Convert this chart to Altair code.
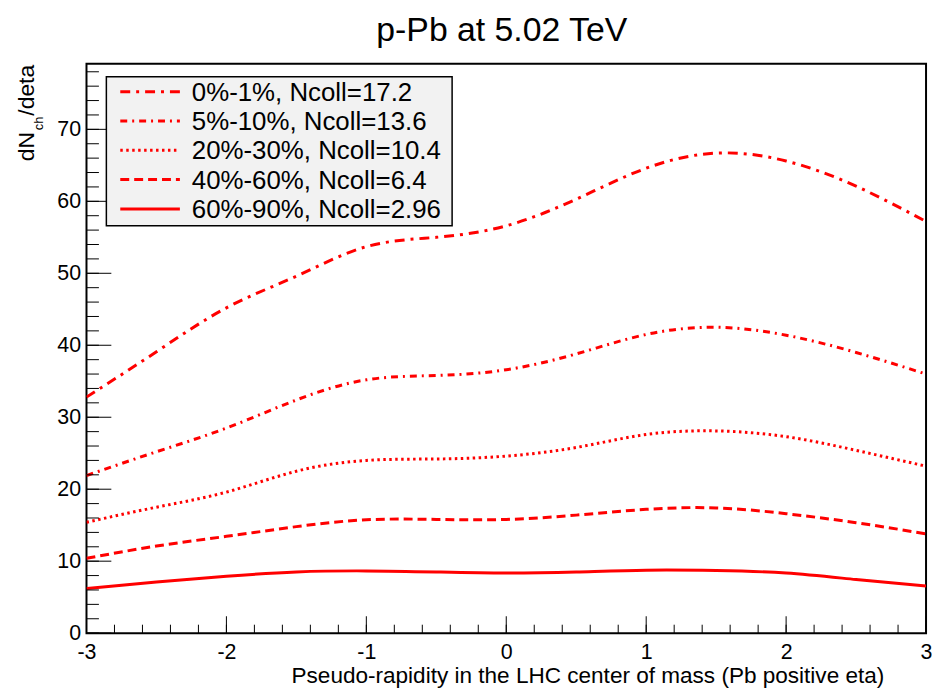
import altair as alt
import pandas as pd

# ---- data ----
eta = [-3.0, -2.5, -2.0, -1.5, -1.0, -0.5, 0.0, 0.5, 1.0, 1.5, 2.0, 2.5, 3.0]
labels = [
    "0%-1%, Ncoll=17.2",
    "5%-10%, Ncoll=13.6",
    "20%-30%, Ncoll=10.4",
    "40%-60%, Ncoll=6.4",
    "60%-90%, Ncoll=2.96",
]
v_0_1 = [32.8, 39.1, 45.2, 49.6, 53.7, 55.0, 56.6, 60.3, 64.6, 66.7, 65.6, 62.1, 57.2]
v_5_10 = [21.9, 25.2, 28.5, 32.4, 35.2, 35.8, 36.6, 38.8, 41.5, 42.5, 41.4, 39.0, 36.0]
v_20_30 = [15.4, 17.5, 19.6, 22.5, 24.0, 24.2, 24.6, 25.8, 27.6, 28.1, 27.3, 25.4, 23.2]
v_40_60 = [10.4, 12.1, 13.45, 14.8, 15.75, 15.8, 15.8, 16.4, 17.2, 17.4, 16.6, 15.35, 13.8]
v_60_90 = [6.2, 7.1, 7.9, 8.5, 8.65, 8.5, 8.35, 8.5, 8.75, 8.7, 8.35, 7.45, 6.55]
series_values = [v_0_1, v_5_10, v_20_30, v_40_60, v_60_90]

x_major = [-3, -2, -1, 0, 1, 2, 3]
x_minor = [round(-3 + 0.2 * i, 1) for i in range(31)]
y_major = [0, 10, 20, 30, 40, 50, 60, 70]
y_minor = [2 * i for i in range(40)]

# ---- styles ----
dashes = [[10, 6, 3, 6], [7, 5, 2, 5], [2.5, 3.5], [9, 5], None]
RED = "#ff0000"
FONT = "Liberation Sans"
W, H = 845, 573

xs = alt.Scale(domain=[-3, 3], nice=False, zero=False)
ys = alt.Scale(domain=[0, 79.1], nice=False, zero=False)
x_axis = alt.Axis(values=x_major, labelExpr="'' + datum.value",
                  ticks=False, domain=False, grid=False, title=None,
                  labelFont=FONT, labelFontSize=21.5, labelColor="black",
                  labelPadding=9, labelFlush=False, labelOverlap=False)
y_axis = alt.Axis(values=y_major, ticks=False, domain=False, grid=False,
                  title=None, labelFont=FONT, labelFontSize=21.5,
                  labelColor="black", labelPadding=6, labelFlush=False,
                  labelOverlap=False)
one = pd.DataFrame({"k": [0]})

rows = []
for lab, vals in zip(labels, series_values):
    for e, v in zip(eta, vals):
        rows.append({"eta": e, "v": v, "s": lab})
df = pd.DataFrame(rows)

layers = []
for i, lab in enumerate(labels):
    mk = dict(color=RED, strokeWidth=3, interpolate="natural", clip=True)
    if dashes[i] is not None:
        mk["strokeDash"] = dashes[i]
    layers.append(
        alt.Chart(df[df["s"] == lab]).mark_line(**mk).encode(
            x=alt.X("eta:Q", scale=xs, axis=x_axis),
            y=alt.Y("v:Q", scale=ys, axis=y_axis))
    )

# inward ticks
tick_style = dict(color="black", strokeWidth=1)
layers.append(alt.Chart(pd.DataFrame({"eta": x_major})).mark_rule(**tick_style).encode(
    x=alt.X("eta:Q", scale=xs, axis=x_axis), y=alt.value(H), y2=alt.value(H - 17)))
layers.append(alt.Chart(pd.DataFrame({"eta": x_minor})).mark_rule(**tick_style).encode(
    x=alt.X("eta:Q", scale=xs, axis=x_axis), y=alt.value(H), y2=alt.value(H - 8.5)))
layers.append(alt.Chart(pd.DataFrame({"v": y_major})).mark_rule(**tick_style).encode(
    y=alt.Y("v:Q", scale=ys, axis=y_axis), x=alt.value(0), x2=alt.value(25)))
layers.append(alt.Chart(pd.DataFrame({"v": y_minor})).mark_rule(**tick_style).encode(
    y=alt.Y("v:Q", scale=ys, axis=y_axis), x=alt.value(0), x2=alt.value(12.5)))

# legend box
layers.append(alt.Chart(one).mark_rect(fill="#f2f2f2", stroke="black", strokeWidth=1.5).encode(
    x=alt.value(20), x2=alt.value(368), y=alt.value(13), y2=alt.value(163)))
for i, lab in enumerate(labels):
    cy = 28 + i * 29.5
    rk = dict(color=RED, strokeWidth=3)
    if dashes[i] is not None:
        rk["strokeDash"] = dashes[i]
    layers.append(alt.Chart(one).mark_rule(**rk).encode(
        x=alt.value(34), x2=alt.value(94), y=alt.value(cy)))
    layers.append(alt.Chart(pd.DataFrame({"t": [lab]})).mark_text(
        font=FONT, fontSize=26, align="left", baseline="middle", color="black").encode(
        x=alt.value(106), y=alt.value(cy + 1), text="t:N"))

# title
layers.append(alt.Chart(pd.DataFrame({"t": ["p-Pb at 5.02 TeV"]})).mark_text(
    font=FONT, fontSize=34, align="center", baseline="alphabetic", color="black").encode(
    x=alt.value(418), y=alt.value(-23), text="t:N"))
# x title
layers.append(alt.Chart(pd.DataFrame({"t": ["Pseudo-rapidity in the LHC center of mass (Pb positive eta)"]})).mark_text(
    font=FONT, fontSize=22.7, align="right", baseline="alphabetic", color="black").encode(
    x=alt.value(803), y=alt.value(623), text="t:N"))
# y title: dN_ch/deta
layers.append(alt.Chart(pd.DataFrame({"t": ["dN"]})).mark_text(
    font=FONT, fontSize=23, align="left", baseline="alphabetic", angle=270, color="black").encode(
    x=alt.value(-53), y=alt.value(98), text="t:N"))
layers.append(alt.Chart(pd.DataFrame({"t": ["ch"]})).mark_text(
    font=FONT, fontSize=13, align="center", baseline="alphabetic", angle=270, color="black").encode(
    x=alt.value(-44), y=alt.value(60), text="t:N"))
layers.append(alt.Chart(pd.DataFrame({"t": ["/deta"]})).mark_text(
    font=FONT, fontSize=23, align="right", baseline="alphabetic", angle=270, color="black").encode(
    x=alt.value(-53), y=alt.value(1), text="t:N"))

chart = alt.layer(*layers).properties(
    width=W, height=H,
    autosize=alt.AutoSizeParams(type="none"),
    padding={"left": 79, "top": 54, "right": 6, "bottom": 55},
).configure_view(stroke="black", strokeWidth=2)

chart.save("out.html", embed_options={"renderer": "svg", "actions": False})
